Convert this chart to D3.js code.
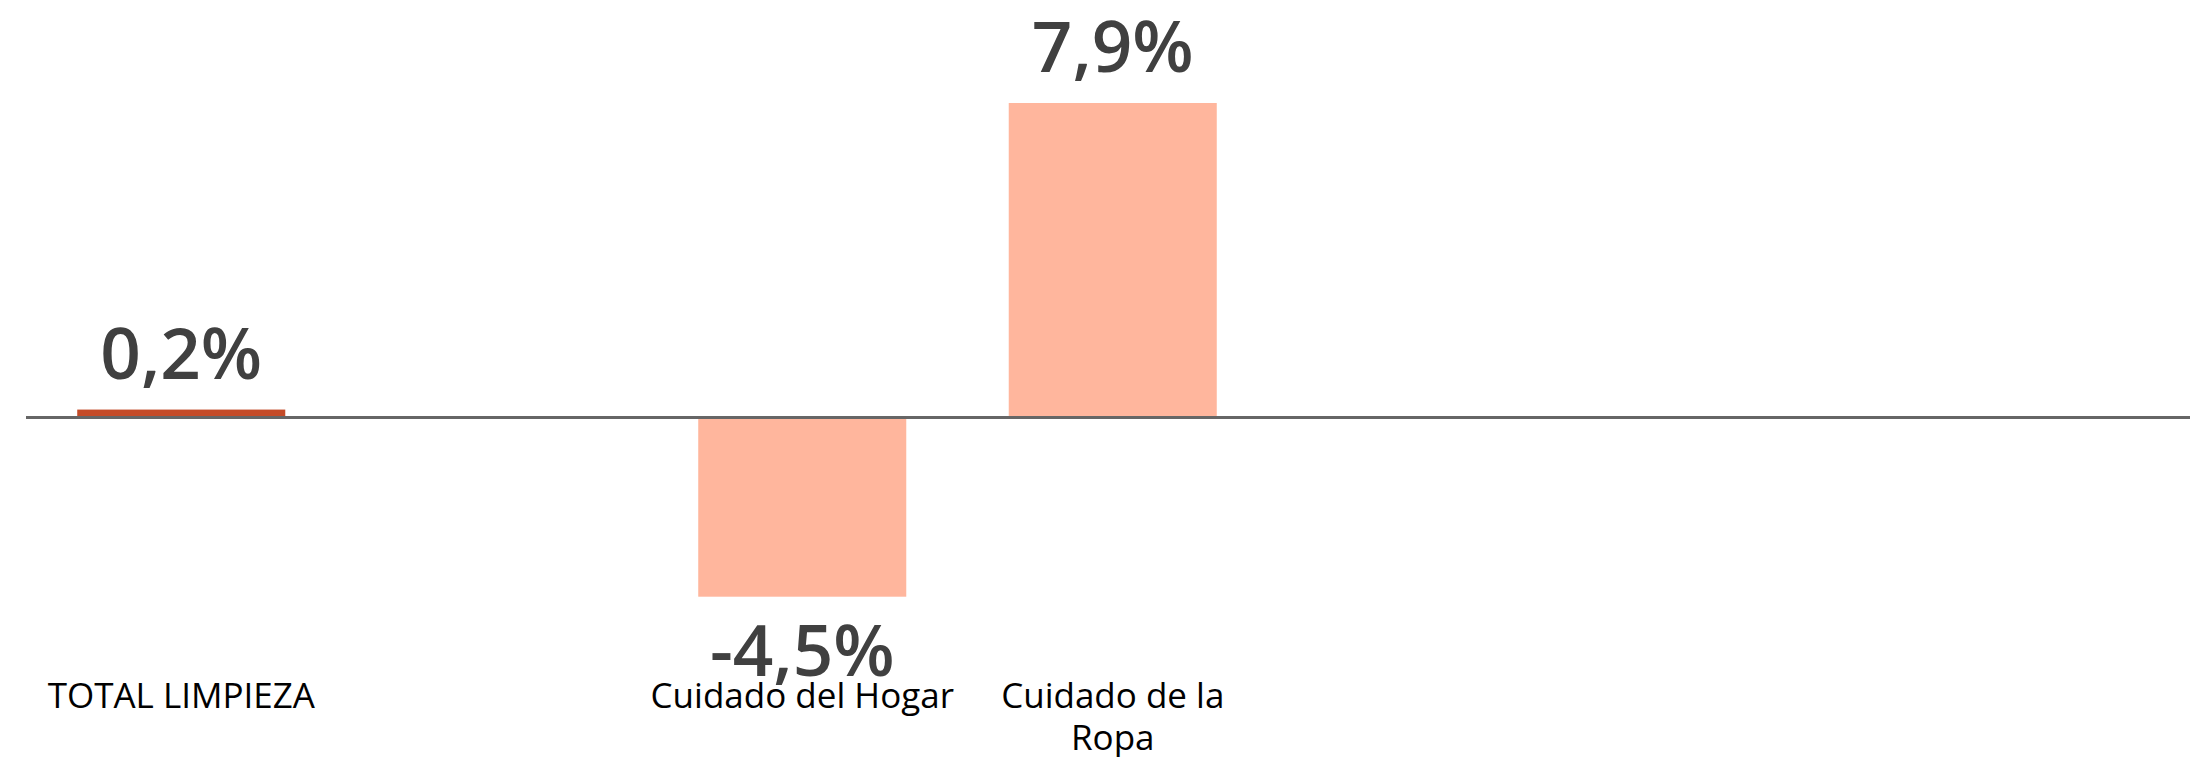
<!DOCTYPE html>
<html>
<head>
<meta charset="utf-8">
<script src="https://cdn.jsdelivr.net/npm/d3@7"></script>
<style>
  html, body { margin: 0; padding: 0; background: #ffffff; }
  svg { display: block; }
</style>
</head>
<body>
<svg id="chart" width="2190" height="757"></svg>
<script>
// ---- data ----
const categories = ["TOTAL LIMPIEZA", "", "Cuidado del Hogar", "Cuidado de la Ropa", "", "", ""];
const values = [0.2, null, -4.5, 7.9, null, null, null];
const valueLabels = ["0,2%", "", "-4,5%", "7,9%", "", "", ""];
const isTotal = [true, false, false, false, false, false, false];

// ---- layout ----
const W = 2190, H = 757;
const svg = d3.select("#chart");
const idx = categories.map((d, i) => i);

const x = d3.scaleBand()
  .domain(idx)
  .range([26, 26 + 7 * 310.5])
  .paddingInner(0.33)
  .paddingOuter(0.165);

const y = d3.scaleLinear()
  .domain([-4.5, 7.9])
  .range([596.7, 103]);

const FONT = "'Open Sans', 'Liberation Sans', sans-serif";

// bars
const barData = idx.filter(i => values[i] !== null);
svg.append("g").selectAll("rect")
  .data(barData)
  .join("rect")
  .attr("x", i => x(i))
  .attr("width", x.bandwidth())
  .attr("y", i => Math.min(y(values[i]), y(0)))
  .attr("height", i => Math.abs(y(values[i]) - y(0)))
  .attr("fill", i => isTotal[i] ? "#C44B28" : "#FFB69D");

// zero line
svg.append("line")
  .attr("x1", 26).attr("x2", W)
  .attr("y1", y(0)).attr("y2", y(0))
  .attr("stroke", "#666666")
  .attr("stroke-width", 3);

// value labels
svg.append("g").selectAll("text")
  .data(barData)
  .join("text")
  .attr("x", i => x(i) + x.bandwidth() / 2)
  .attr("y", i => values[i] >= 0 ? y(values[i]) - 31 : y(values[i]) + 79)
  .attr("text-anchor", "middle")
  .attr("font-family", FONT)
  .attr("font-weight", 600)
  .attr("font-size", 71)
  .attr("fill", "#404040")
  .text(i => valueLabels[i]);

// category axis
const axis = d3.axisBottom(x)
  .tickSize(0)
  .tickPadding(0)
  .tickFormat(i => categories[i]);

const ag = svg.append("g")
  .attr("transform", "translate(0,708)")
  .call(axis);
ag.select(".domain").remove();
ag.selectAll("text")
  .attr("font-family", FONT)
  .attr("font-size", 35)
  .attr("fill", "#000000")
  .attr("y", 0)
  .attr("dy", 0)
  .call(wrap, 310.5 * 0.99);

function wrap(texts, width) {
  texts.each(function() {
    const text = d3.select(this);
    const words = text.text().split(/\s+/).filter(w => w.length);
    if (!words.length) return;
    text.text(null);
    let line = [];
    let lineNumber = 0;
    let tspan = text.append("tspan").attr("x", 0).attr("y", 0);
    const lines = [];
    words.forEach(w => {
      line.push(w);
      tspan.text(line.join(" "));
      if (tspan.node().getComputedTextLength() > width && line.length > 1) {
        line.pop();
        tspan.text(line.join(" "));
        line = [w];
        lineNumber++;
        tspan = text.append("tspan").attr("x", 0).attr("y", lineNumber * 42).text(w);
      }
    });
  });
}
</script>
</body>
</html>
